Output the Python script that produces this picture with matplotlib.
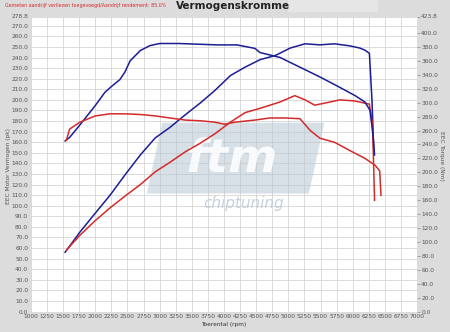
import matplotlib
matplotlib.use("Agg")
import matplotlib.pyplot as plt
from matplotlib.patches import Polygon, Rectangle
import numpy as np

# ---- data ----
rpm_bt = [1530, 1600, 1760, 2000, 2150, 2260, 2380, 2460, 2540, 2700, 2850, 3000, 3300, 3600, 3900, 4200,
          4480, 4560, 4870, 5180, 5490, 5800, 6040, 6190, 6270, 6320, 6340]
blue_torque = [245, 250, 268, 296, 315, 324, 333, 344, 360, 375, 382, 385, 385, 384, 383, 383,
               378, 372, 365, 351, 337, 322, 310, 301, 289, 250, 225]

rpm_bp = [1530, 1760, 2000, 2230, 2460, 2700, 2930, 3160, 3400, 3630, 3860, 4100, 4330, 4560, 4800,
          5030, 5260, 5490, 5720, 5960, 6110, 6190, 6260, 6300, 6330]
blue_power = [56, 75, 93, 110, 129, 148, 164, 174, 186, 197, 209, 223, 231, 238, 242,
              249, 253, 252, 253, 251, 249, 247, 244, 200, 148]

rpm_rt = [1550, 1600, 1760, 2000, 2230, 2460, 2700, 2930, 3160, 3400, 3630, 3860, 4010, 4170, 4480,
          4710, 4950, 5180, 5340, 5490, 5720, 5960, 6190, 6350, 6420, 6440]
red_torque = [246, 262, 272, 281, 284, 284, 283, 281, 278, 275, 274, 272, 269, 272, 275,
              278, 278, 277, 260, 249, 243, 231, 220, 210, 202, 167]

rpm_rp = [1550, 1760, 2000, 2230, 2460, 2700, 2930, 3160, 3400, 3630, 3860, 4100, 4330, 4560, 4870,
          5100, 5260, 5410, 5570, 5800, 6030, 6180, 6260, 6310, 6340]
red_power = [58, 72, 86, 98, 109, 120, 132, 141, 151, 159, 168, 179, 188, 192, 198,
             204, 200, 195, 197, 200, 199, 197, 196, 176, 105]

x_ticks = list(range(1000, 7001, 250))
left_ticks = list(range(0, 271, 10)) + [278.8]
right_ticks = list(range(0, 401, 20)) + [423.8]

BLUE = "#1c1c96"
RED = "#d42a2a"
BG = "#dcdcdc"
TXT = "#555555"

fig = plt.figure(figsize=(4.5, 3.32), dpi=100, facecolor=BG)
ax = fig.add_axes([31/450, 1-311.5/332, (417-31)/450, (311.5-16.5)/332])
ax.set_facecolor("white")
ax2 = ax.twinx()

ax.set_xlim(1000, 7000)
ax.set_ylim(0, 278.8)
ax2.set_ylim(0, 423.8)

ax.set_xticks(x_ticks)
ax.set_xticklabels([str(t) for t in x_ticks], fontsize=4.2, color=TXT)
ax.set_yticks(left_ticks)
ax.set_yticklabels(["%.1f" % t for t in left_ticks], fontsize=4.2, color=TXT)
ax2.set_yticks(right_ticks)
ax2.set_yticklabels(["%.1f" % t for t in right_ticks], fontsize=4.2, color=TXT)

ax.tick_params(axis="both", length=0, pad=2)
ax2.tick_params(axis="y", length=2, width=0.5, color="#888888", pad=1)

ax.grid(True, color="#d4d4d4", linewidth=0.6)
ax.set_axisbelow(True)
for s in list(ax.spines.values()) + list(ax2.spines.values()):
    s.set_visible(False)

# watermark logo
poly = Polygon([[0.30, 0.40], [0.72, 0.40], [0.76, 0.64], [0.34, 0.64]], closed=True,
               transform=ax.transAxes, facecolor="#b7c7d4", alpha=0.55, edgecolor="none", zorder=1)
ax.add_patch(poly)
ax.text(0.52, 0.515, "ftm", transform=ax.transAxes, fontsize=34, fontweight="bold", style="italic",
        color="white", alpha=0.85, ha="center", va="center", zorder=1.5)
ax.text(0.55, 0.365, "chiptuning", transform=ax.transAxes, fontsize=11, style="italic",
        color="#b7c7d4", alpha=0.8, ha="center", va="center", zorder=1.5)

ax2.plot(rpm_bt, blue_torque, color=BLUE, lw=1.1, zorder=3)
ax.plot(rpm_bp, blue_power, color=BLUE, lw=1.1, zorder=3)
ax2.plot(rpm_rt, red_torque, color=RED, lw=1.1, zorder=3)
ax.plot(rpm_rp, red_power, color=RED, lw=1.1, zorder=3)

ax.set_xlabel("Toerental (rpm)", fontsize=4.2, color="#333333", labelpad=2)
ax.xaxis.set_label_coords(0.5, -0.035)
fig.text(0.018, 0.5, "EEC Motor Vermogen (pk)", rotation=90, fontsize=4.2, color=TXT,
         ha="center", va="center")
fig.text(0.982, 0.53, "EEC Torque (Nm)", rotation=-90, fontsize=4.2, color=TXT,
         ha="center", va="center")

fig.patches.append(Rectangle((288/450, 1-12/332), 90/450, 12/332, transform=fig.transFigure,
                             facecolor="#e6e6e6", edgecolor="none"))
fig.text(0.518, 0.997, "Vermogenskromme", fontsize=7.5, fontweight="bold", color="#222222",
         ha="center", va="top")
fig.text(0.012, 0.99, "Gemeten aandrijf verliezen toegevoegd/Aandrijf rendement: 85.0%", fontsize=3.4,
         color=RED, ha="left", va="top")

fig.savefig("out.png", dpi=100, facecolor=BG)
